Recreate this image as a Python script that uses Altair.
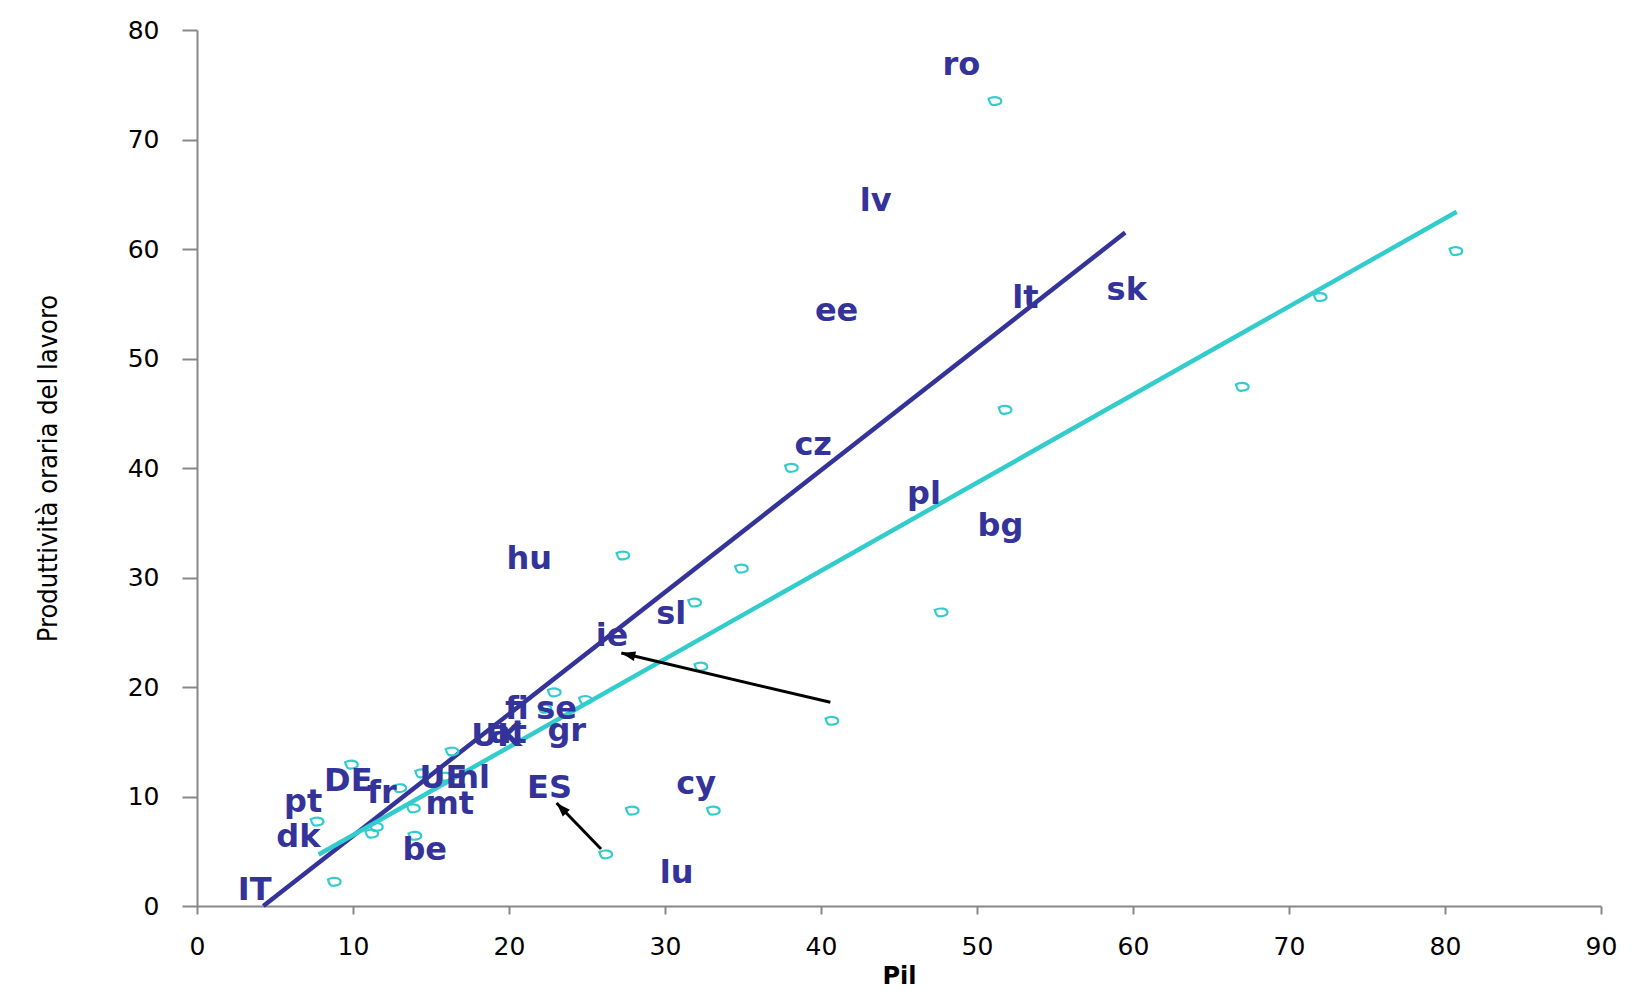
import math
import altair as alt
import pandas as pd

# ---- data ----
pt_x = [51.15, 51.8, 38.1, 27.3, 34.9, 31.9, 32.3, 22.9, 24.9, 22.3, 40.7, 16.35,
        27.9, 33.1, 26.2, 9.9, 7.7, 11.2, 11.5, 13.97, 13.87, 13.0, 14.4, 15.9,
        8.8, 67.0, 72.0, 80.7, 47.7]
pt_y = [73.5, 45.3, 40.0, 32.0, 30.8, 27.7, 21.85, 19.5, 18.8, 18.0, 16.9, 14.1,
        8.7, 8.7, 4.7, 12.9, 7.7, 6.6, 7.2, 6.4, 8.9, 10.75, 12.1, 11.8,
        2.2, 47.4, 55.6, 59.8, 26.8]

lab_text = ["ro", "lv", "ee", "lt", "sk", "cz", "pl", "bg", "hu", "sl", "ie", "fi",
            "se", "UK", "at", "gr", "ES", "cy", "lu", "DE", "fr", "UE", "nl", "mt",
            "pt", "dk", "be", "IT"]
lab_x = [49.0, 43.5, 41.0, 53.1, 59.6, 39.5, 46.6, 51.5, 21.3, 30.4, 26.6, 20.5,
         23.05, 19.2, 19.95, 23.7, 22.6, 32.0, 30.75, 9.7, 11.85, 15.8, 17.7, 16.2,
         6.8, 6.5, 14.6, 3.7]
lab_y = [75.9, 63.5, 53.4, 54.6, 55.3, 41.2, 36.7, 33.8, 30.8, 25.75, 23.7, 17.1,
         17.1, 14.6, 14.85, 15.1, 9.9, 10.2, 2.07, 10.5, 9.4, 10.8, 10.8, 8.4,
         8.6, 5.4, 4.2, 0.55]

# trend lines (end points)
line_series = ["blu", "blu", "ciano", "ciano"]
line_x = [4.25, 59.5, 7.8, 80.75]
line_y = [0.0, 61.5, 4.7, 63.4]

# arrows: start -> tip
arr_x = [40.6, 25.9]
arr_y = [18.6, 5.2]
arr_x2 = [27.2, 23.05]
arr_y2 = [23.1, 9.4]

x_ticks = list(range(0, 91, 10))
y_ticks = list(range(0, 81, 10))

# ---- layout ----
W, H = 1404, 876
XMAX, YMAX = 90, 80
DARK = "#333399"
CYAN = "#33CCCC"

pts = pd.DataFrame({"x": pt_x, "y": pt_y})
labs = pd.DataFrame({"x": lab_x, "y": lab_y, "t": lab_text})
lines = pd.DataFrame({"x": line_x, "y": line_y, "s": line_series})

angles = []
for a, b, c, d in zip(arr_x, arr_y, arr_x2, arr_y2):
    dxp = (c - a) * W / XMAX
    dyp = -(d - b) * H / YMAX
    angles.append(math.degrees(math.atan2(dxp, -dyp)) % 360)
arrows = pd.DataFrame({"x": arr_x, "y": arr_y, "x2": arr_x2, "y2": arr_y2, "ang": angles})

xs = alt.Scale(domain=[0, XMAX], nice=False, zero=False)
ys = alt.Scale(domain=[0, YMAX], nice=False, zero=False)

AXIS_STYLE = dict(grid=False, domainColor="#888888", domainWidth=2, tickColor="#888888",
                  tickWidth=2, labelFont="DejaVu Sans", labelFontSize=25,
                  labelColor="black", titleColor="black", labelFlush=False)

xax = alt.Axis(values=x_ticks, title="Pil", tickSize=8, labelPadding=20,
               titleFont="DejaVu Sans", titleFontWeight="bold", titleFontSize=24,
               titleY=70, titleBaseline="middle", **AXIS_STYLE)
yax = alt.Axis(values=y_ticks, title="Produttività oraria del lavoro", tickSize=15,
               labelPadding=23,
               titleFont="'Liberation Sans Narrow', 'DejaVu Sans Condensed', 'Roboto Condensed', sans-serif",
               titleFontSize=27, titleFontWeight="normal", titleX=-149,
               titleBaseline="middle", **AXIS_STYLE)

X = alt.X("x:Q", scale=xs, axis=xax)
Y = alt.Y("y:Q", scale=ys, axis=yax)

line_layer = alt.Chart(lines).mark_line(strokeWidth=4.5, clip=False).encode(
    x=X, y=Y,
    color=alt.Color("s:N", scale=alt.Scale(domain=["blu", "ciano"], range=[DARK, CYAN]), legend=None),
    detail="s:N",
)

marker = "M -1 -0.4 C -0.2 -0.8 1 -0.7 1 0 C 1 0.6 -0.3 0.7 -0.6 0.5 C -0.8 0.3 -0.9 0 -1 -0.4 Z"
point_layer = alt.Chart(pts).mark_point(shape=marker, size=160, filled=False,
                                        color=CYAN, strokeWidth=2.2, opacity=1).encode(
    x="x:Q", y="y:Q")

rule_layer = alt.Chart(arrows).mark_rule(color="black", strokeWidth=3).encode(
    x="x:Q", y="y:Q", x2="x2:Q", y2="y2:Q")

head = "M 0 0 L 0.7 2 L -0.7 2 Z"
head_layer = alt.Chart(arrows).mark_point(shape=head, size=196, filled=True,
                                          color="black", opacity=1).encode(
    x="x2:Q", y="y2:Q", angle=alt.Angle("ang:Q", scale=None))

text_layer = alt.Chart(labs).mark_text(font="DejaVu Sans", fontWeight="bold", fontSize=32,
                                       color=DARK, align="center", baseline="alphabetic").encode(
    x="x:Q", y="y:Q", text="t:N")

chart = alt.layer(line_layer, point_layer, rule_layer, head_layer, text_layer).properties(
    width=W, height=H,
    autosize=alt.AutoSizeParams(type="none"),
    padding={"left": 189, "top": 22, "right": 27, "bottom": 86},
    background="white",
).configure_view(stroke=None)

chart.save("out.html", embed_options={"renderer": "svg", "actions": False})
